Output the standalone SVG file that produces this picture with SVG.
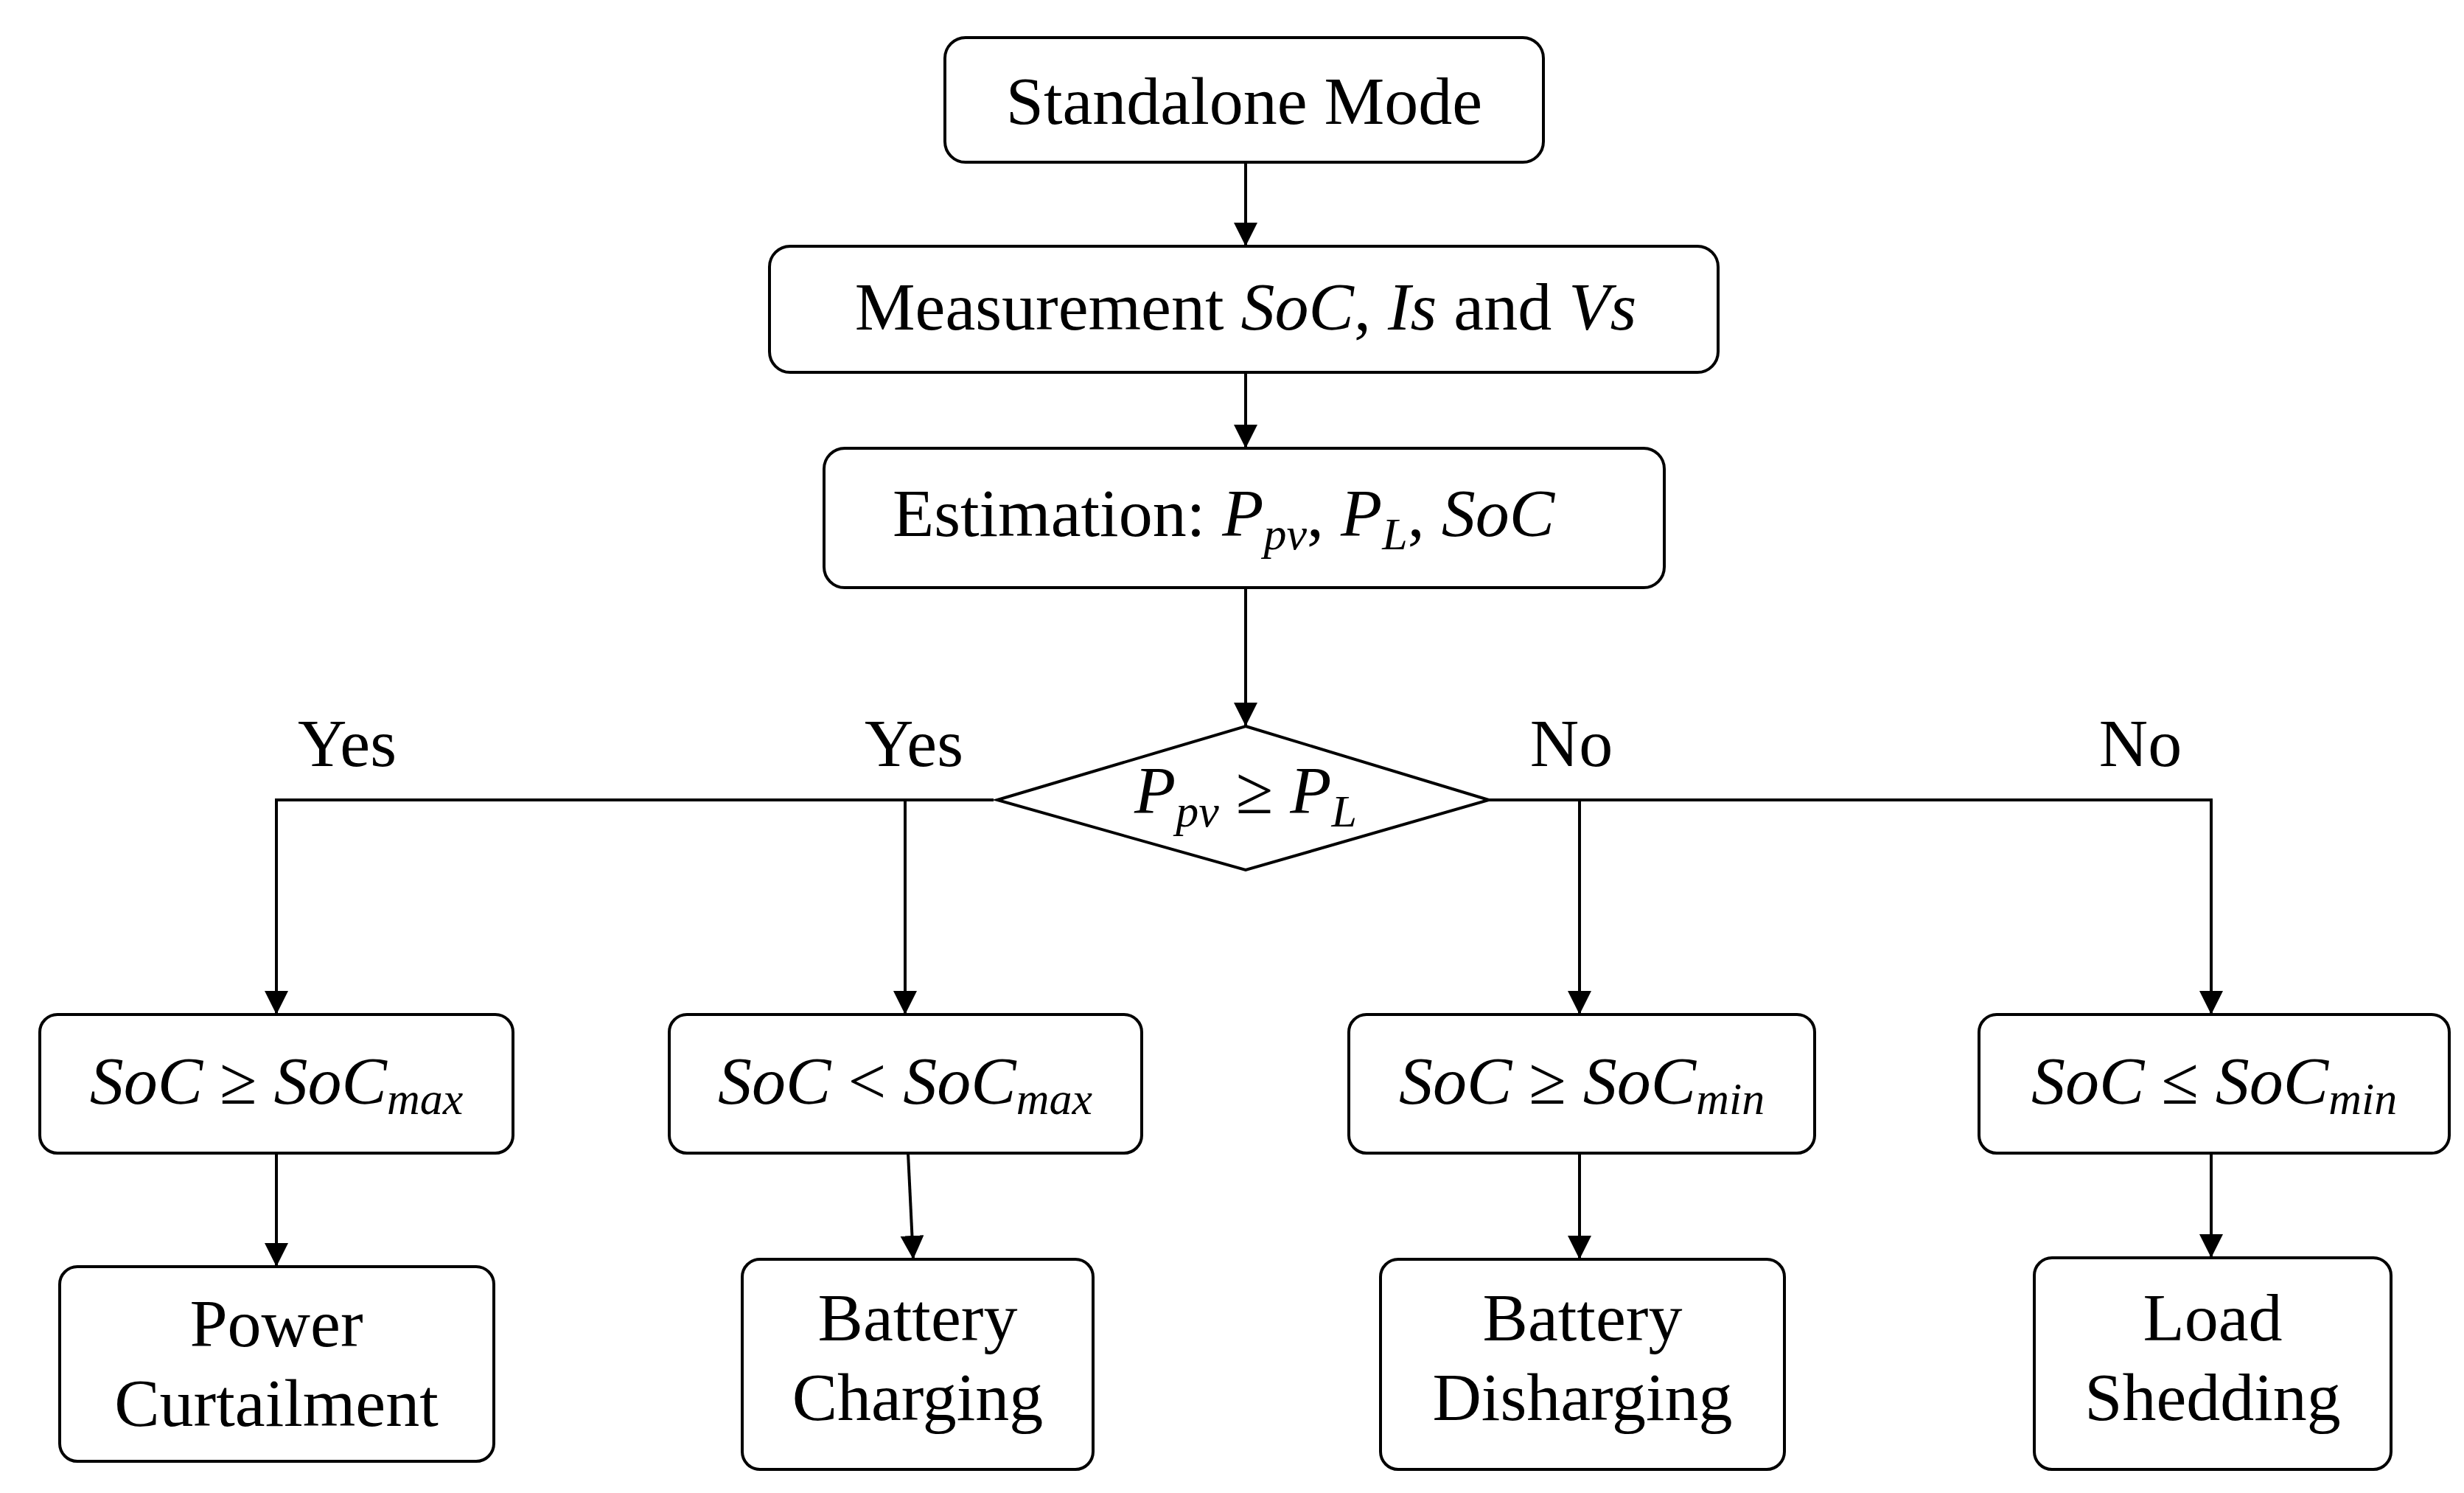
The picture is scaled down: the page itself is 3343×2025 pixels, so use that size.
<svg xmlns="http://www.w3.org/2000/svg" width="3343" height="2025" viewBox="0 0 3343 2025">
<style>
rect,polygon{fill:#fff;stroke:#000;stroke-width:4}
.c line,.c polyline{stroke:#000;stroke-width:4;fill:none}
text{font-family:"Liberation Serif",serif;font-size:92px;text-anchor:middle;fill:#000}
.i{font-style:italic}
.s{font-size:62px;font-style:italic}
</style>
<defs><marker id="a" markerWidth="10" markerHeight="10" refX="9" refY="5" orient="auto" markerUnits="userSpaceOnUse" viewBox="0 0 10 10"><path d="M0,0 L10,5 L0,10Z"/></marker></defs>
<defs><marker id="m" viewBox="0 0 20 20" refX="20" refY="10" markerWidth="32" markerHeight="32" markerUnits="userSpaceOnUse" orient="auto"><path d="M0,0 L20,10 L0,20Z" fill="#000"/></marker></defs>
<g class="c">
<line x1="1690" y1="220" x2="1690" y2="334" marker-end="url(#m)"/>
<line x1="1690" y1="505" x2="1690" y2="608" marker-end="url(#m)"/>
<line x1="1690" y1="797" x2="1690" y2="985" marker-end="url(#m)"/>
<polyline points="1348,1085 375,1085 375,1376" marker-end="url(#m)"/>
<line x1="1228" y1="1085" x2="1228" y2="1376" marker-end="url(#m)"/>
<polyline points="2012,1085 3000,1085 3000,1376" marker-end="url(#m)"/>
<line x1="2143" y1="1085" x2="2143" y2="1376" marker-end="url(#m)"/>
<line x1="375" y1="1564" x2="375" y2="1718" marker-end="url(#m)"/>
<line x1="1232" y1="1564" x2="1239" y2="1708" marker-end="url(#m)"/>
<line x1="2143" y1="1564" x2="2143" y2="1708" marker-end="url(#m)"/>
<line x1="3000" y1="1564" x2="3000" y2="1706" marker-end="url(#m)"/>
</g>
<g id="n1"><rect x="1282" y="51" width="812" height="169" rx="28"/><text x="1688" y="168">Standalone Mode</text></g>
<g id="n2"><rect x="1044" y="334" width="1287" height="171" rx="28"/><text x="1690" y="447">Measurement <tspan class="i">SoC</tspan>, <tspan class="i">Is</tspan> and <tspan class="i">Vs</tspan></text></g>
<g id="n3"><rect x="1118" y="608" width="1140" height="189" rx="28"/><text x="1660" y="727">Estimation: <tspan class="i">P</tspan><tspan class="s" dy="18">pv</tspan><tspan dy="-18">, </tspan><tspan class="i">P</tspan><tspan class="s" dy="18">L</tspan><tspan dy="-18">, </tspan><tspan class="i">SoC</tspan></text></g>
<g id="d"><polygon points="1690,985 2020,1085 1690,1180 1353,1085"/><text x="1690" y="1103"><tspan class="i">P</tspan><tspan class="s" dy="18">pv</tspan><tspan dy="-18"> ≥ </tspan><tspan class="i">P</tspan><tspan class="s" dy="18">L</tspan></text></g>
<g id="l"><text x="471" y="1039">Yes</text><text x="1240" y="1039">Yes</text><text x="2132" y="1039">No</text><text x="2904" y="1039">No</text></g>
<g id="b1"><rect x="54" y="1376" width="642" height="188" rx="24"/><text x="375" y="1497"><tspan class="i">SoC</tspan> ≥ <tspan class="i">SoC</tspan><tspan class="s" dy="14">max</tspan></text></g>
<g id="b2"><rect x="908" y="1376" width="641" height="188" rx="24"/><text x="1228" y="1497"><tspan class="i">SoC</tspan> &lt; <tspan class="i">SoC</tspan><tspan class="s" dy="14">max</tspan></text></g>
<g id="b3"><rect x="1830" y="1376" width="632" height="188" rx="24"/><text x="2146" y="1497"><tspan class="i">SoC</tspan> ≥ <tspan class="i">SoC</tspan><tspan class="s" dy="14">min</tspan></text></g>
<g id="b4"><rect x="2685" y="1376" width="638" height="188" rx="24"/><text x="3004" y="1497"><tspan class="i">SoC</tspan> ≤ <tspan class="i">SoC</tspan><tspan class="s" dy="14">min</tspan></text></g>
<g id="r1"><rect x="81" y="1718" width="589" height="264" rx="24"/><text x="375" y="1826">Power</text><text x="375" y="1934">Curtailment</text></g>
<g id="r2"><rect x="1007" y="1708" width="476" height="285" rx="24"/><text x="1245" y="1818">Battery</text><text x="1245" y="1926">Charging</text></g>
<g id="r3"><rect x="1873" y="1708" width="548" height="285" rx="24"/><text x="2147" y="1818">Battery</text><text x="2147" y="1926">Disharging</text></g>
<g id="r4"><rect x="2760" y="1706" width="484" height="287" rx="24"/><text x="3002" y="1818">Load</text><text x="3002" y="1926">Shedding</text></g>
</svg>
